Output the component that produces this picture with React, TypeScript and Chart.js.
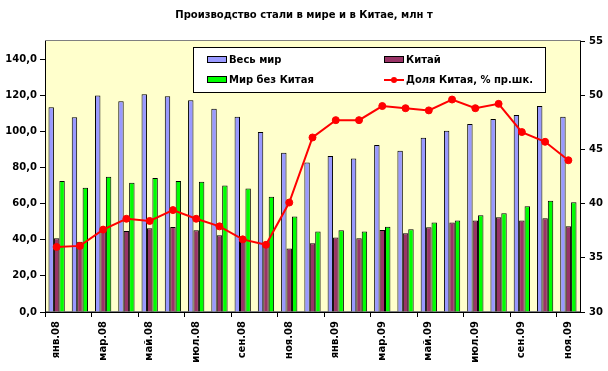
import React, { useEffect, useRef } from "react";
import { Chart, registerables } from "chart.js";

Chart.register(...registerables);

const months = [
  "янв.08", "фев.08", "мар.08", "апр.08", "май.08", "июн.08", "июл.08", "авг.08",
  "сен.08", "окт.08", "ноя.08", "дек.08", "янв.09", "фев.09", "мар.09", "апр.09",
  "май.09", "июн.09", "июл.09", "авг.09", "сен.09", "окт.09", "ноя.09",
];
const world = [
  113.3, 107.8, 119.9, 116.6, 120.5, 119.4, 117.2, 112.5, 108.1, 99.6, 88.2, 82.7,
  86.3, 84.9, 92.4, 89.3, 96.5, 100.3, 104.1, 106.8, 109.0, 114.0, 108.1,
];
const china = [
  40.8, 38.9, 45.0, 44.9, 46.3, 47.1, 45.2, 42.5, 39.5, 36.0, 35.2, 38.0,
  41.3, 40.8, 45.4, 43.6, 46.9, 49.6, 50.7, 52.4, 50.7, 51.9, 47.4,
];
const worldExChina = [
  72.5, 68.8, 74.9, 71.6, 74.2, 72.5, 72.1, 70.0, 68.3, 63.8, 52.8, 44.5,
  45.2, 44.5, 47.2, 45.8, 49.6, 50.7, 53.5, 54.6, 58.5, 61.6, 60.7,
];
const chinaShare = [
  36.0, 36.1, 37.6, 38.6, 38.4, 39.4, 38.6, 37.9, 36.7, 36.2, 40.1, 46.1,
  47.7, 47.7, 49.0, 48.8, 48.6, 49.6, 48.8, 49.2, 46.6, 45.7, 44.0,
];
const leftTicks = [0, 20, 40, 60, 80, 100, 120, 140];
const rightTicks = [30, 35, 40, 45, 50, 55];

const seriesNames = ["Весь мир", "Китай", "Мир без Китая", "Доля Китая, % пр.шк."];
const titleText = "Производство стали в мире и в Китае, млн т";

const FAMILY = '"DejaVu Sans", sans-serif';
const COL_WORLD = "#9999FF";
const COL_CHINA = "#993366";
const COL_EX = "#00FF00";
const COL_LINE = "#FF0000";

const bgPlugin = {
  id: "plotBg",
  beforeDraw(chart: any) {
    const { ctx, chartArea } = chart;
    ctx.save();
    ctx.fillStyle = "#FFFFCC";
    ctx.fillRect(chartArea.left, chartArea.top, chartArea.right - chartArea.left, chartArea.bottom - chartArea.top);
    ctx.strokeStyle = "#808080";
    ctx.lineWidth = 1;
    ctx.strokeRect(
      Math.round(chartArea.left) + 0.5,
      Math.round(chartArea.top) - 0.5,
      Math.round(chartArea.right - chartArea.left),
      Math.round(chartArea.bottom - chartArea.top)
    );
    ctx.restore();
  },
};

const legendPlugin = {
  id: "boxLegend",
  afterDraw(chart: any) {
    const { ctx } = chart;
    ctx.save();
    const bx = 193.5, by = 47.5, bw = 352, bh = 45;
    ctx.fillStyle = "#FFFFFF";
    ctx.fillRect(bx, by, bw, bh);
    ctx.strokeStyle = "#000";
    ctx.lineWidth = 1;
    ctx.strokeRect(bx, by, bw, bh);
    ctx.font = `bold 10px ${FAMILY}`;
    ctx.textBaseline = "middle";
    ctx.textAlign = "left";
    const items = [
      { name: seriesNames[0], color: COL_WORLD, x: 207, y: 60, line: false },
      { name: seriesNames[1], color: COL_CHINA, x: 384, y: 60, line: false },
      { name: seriesNames[2], color: COL_EX, x: 207, y: 80, line: false },
      { name: seriesNames[3], color: COL_LINE, x: 384, y: 80, line: true },
    ];
    for (const it of items) {
      if (it.line) {
        ctx.strokeStyle = it.color;
        ctx.lineWidth = 2;
        ctx.beginPath();
        ctx.moveTo(it.x, it.y);
        ctx.lineTo(it.x + 20, it.y);
        ctx.stroke();
        ctx.fillStyle = it.color;
        ctx.beginPath();
        ctx.arc(it.x + 10, it.y, 3, 0, Math.PI * 2);
        ctx.fill();
      } else {
        ctx.fillStyle = it.color;
        ctx.fillRect(it.x + 0.5, it.y - 3.5, 19, 6);
        ctx.strokeStyle = "#000";
        ctx.lineWidth = 1;
        ctx.strokeRect(it.x + 0.5, it.y - 3.5, 19, 6);
      }
      ctx.fillStyle = "#000";
      ctx.fillText(it.name, it.x + 22, it.y + 0.5);
    }
    ctx.restore();
  },
};

export default function App() {
  const ref = useRef<HTMLCanvasElement | null>(null);

  useEffect(() => {
    if (!ref.current) return;
    const font = { family: FAMILY, size: 10, weight: "bold" as const };
    const chart = new Chart(ref.current, {
      type: "bar",
      data: {
        labels: months,
        datasets: [
          {
            type: "line",
            label: seriesNames[3],
            data: chinaShare,
            yAxisID: "y1",
            borderColor: COL_LINE,
            backgroundColor: COL_LINE,
            borderWidth: 2,
            pointRadius: 3.5,
            pointBackgroundColor: COL_LINE,
            pointBorderColor: COL_LINE,
            pointBorderWidth: 1,
            tension: 0,
            order: 0,
          } as any,
          {
            label: seriesNames[0],
            data: world,
            yAxisID: "y",
            backgroundColor: COL_WORLD,
            borderColor: "#000",
            borderWidth: 1,
            categoryPercentage: 0.7,
            barPercentage: 1.0,
            order: 1,
          },
          {
            label: seriesNames[1],
            data: china,
            yAxisID: "y",
            backgroundColor: COL_CHINA,
            borderColor: "#000",
            borderWidth: 1,
            categoryPercentage: 0.7,
            barPercentage: 1.0,
            order: 1,
          },
          {
            label: seriesNames[2],
            data: worldExChina,
            yAxisID: "y",
            backgroundColor: COL_EX,
            borderColor: "#000",
            borderWidth: 1,
            categoryPercentage: 0.7,
            barPercentage: 1.0,
            order: 1,
          },
        ],
      },
      options: {
        animation: false,
        responsive: false,
        layout: { padding: 0 },
        plugins: {
          legend: { display: false },
          tooltip: { enabled: false },
          title: {
            display: true,
            text: titleText,
            color: "#000",
            font: { family: FAMILY, size: 10, weight: "bold" },
            padding: { top: 9, bottom: 20 },
          },
        },
        scales: {
          x: {
            type: "category",
            offset: true,
            grid: {
              offset: true,
              drawOnChartArea: false,
              tickLength: 5,
              color: (c: any) => (c.index % 2 === 0 ? "#000" : "rgba(0,0,0,0)"),
            },
            border: { display: true, color: "#000" },
            ticks: {
              autoSkip: false,
              minRotation: 90,
              maxRotation: 90,
              padding: 4,
              color: "#000",
              font,
              callback: (_v: any, i: number) => (i % 2 === 0 ? months[i] : ""),
            },
            afterFit: (s: any) => {
              s.height = 59;
            },
          },
          y: {
            position: "left",
            min: 0,
            max: 150,
            afterBuildTicks: (s: any) => {
              s.ticks = leftTicks.map((v) => ({ value: v }));
            },
            ticks: {
              color: "#000",
              font,
              padding: 3,
              callback: (v: any) => Number(v).toFixed(1).replace(".", ","),
            },
            grid: { drawOnChartArea: false, tickLength: 5, color: "#000" },
            border: { display: true, color: "#000" },
            afterFit: (s: any) => {
              s.width = 45;
            },
          },
          y1: {
            position: "right",
            min: 30,
            max: 55,
            afterBuildTicks: (s: any) => {
              s.ticks = rightTicks.map((v) => ({ value: v }));
            },
            ticks: {
              color: "#000",
              font,
              padding: 4,
              callback: (v: any) => String(v),
            },
            grid: { drawOnChartArea: false, tickLength: 5, color: "#000" },
            border: { display: true, color: "#000" },
            afterFit: (s: any) => {
              s.width = 28;
            },
          },
        },
      },
      plugins: [bgPlugin, legendPlugin],
    });
    return () => chart.destroy();
  }, []);

  return (
    <div style={{ position: "absolute", left: 0, top: 0, width: 608, height: 371, background: "#fff" }}>
      <canvas ref={ref} width={608} height={371} style={{ display: "block" }} />
    </div>
  );
}
